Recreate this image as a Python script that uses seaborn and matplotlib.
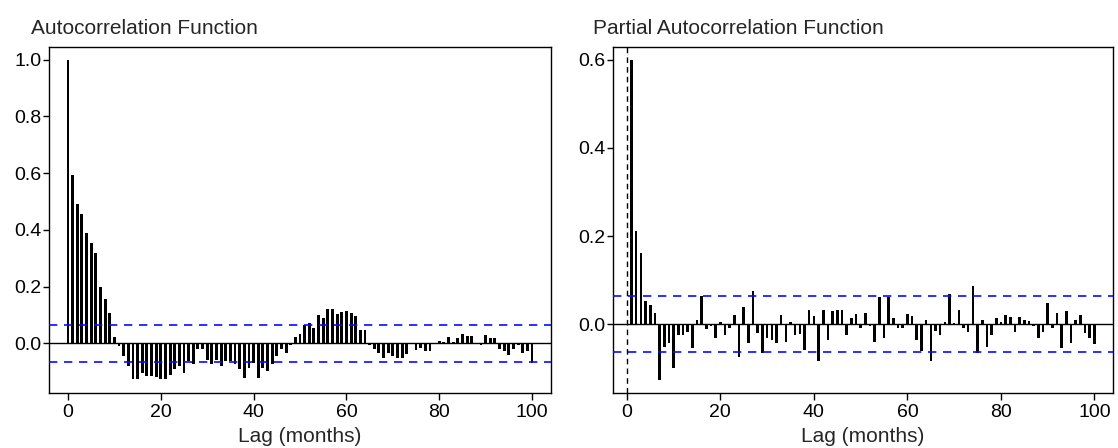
import numpy as np
import pandas as pd
import matplotlib
matplotlib.use("Agg")
import matplotlib.pyplot as plt
import seaborn as sns

# ACF values, lags 0..100
acf_lags = list(range(0, 101))
acf_vals = [
    1.0, 0.595, 0.49, 0.456, 0.39, 0.353, 0.32, 0.20, 0.155, 0.106,
    0.024, -0.01, -0.045, -0.08, -0.124, -0.127, -0.104, -0.115, -0.115, -0.119,
    -0.124, -0.127, -0.112, -0.092, -0.08, -0.104, -0.062, -0.074, -0.021, -0.021,
    -0.057, -0.074, -0.06, -0.08, -0.062, -0.062, -0.074, -0.092, -0.121, -0.086,
    -0.068, -0.121, -0.086, -0.098, -0.074, -0.045, -0.021, -0.035, -0.005, 0.024,
    0.034, 0.065, 0.073, 0.053, 0.099, 0.091, 0.12, 0.12, 0.102, 0.11,
    0.114, 0.108, 0.097, 0.047, 0.047, -0.005, -0.021, -0.033, -0.053, -0.033,
    -0.045, -0.053, -0.05, -0.039, -0.004, -0.025, -0.018, -0.027, -0.027, 0.002,
    0.008, 0.005, 0.022, 0.005, 0.018, 0.034, 0.026, 0.026, 0.002, -0.006,
    0.03, 0.02, 0.018, -0.021, -0.027, -0.041, -0.021, -0.006, -0.035, -0.027,
    -0.068,
]

# PACF values, lags 1..100
pacf_lags = list(range(1, 101))
pacf_vals = [
    0.60, 0.212, 0.161, 0.052, 0.044, 0.025, -0.127, -0.051, -0.043, -0.099,
    -0.024, -0.024, -0.017, -0.055, 0.01, 0.063, -0.01, -0.005, -0.032, 0.005,
    -0.024, -0.008, 0.02, -0.074, 0.04, -0.043, 0.076, -0.02, -0.066, -0.032,
    -0.035, -0.043, 0.021, -0.04, 0.006, -0.024, -0.023, -0.058, 0.033, 0.018,
    -0.083, 0.033, -0.036, 0.029, 0.033, 0.033, -0.024, 0.014, 0.023, -0.009,
    0.025, -0.005, -0.04, 0.061, -0.032, 0.061, 0.014, -0.009, -0.009, 0.023,
    0.018, -0.036, -0.061, 0.01, -0.084, -0.015, -0.024, 0.006, 0.068, 0.002,
    0.033, -0.009, -0.017, 0.087, -0.066, 0.01, -0.051, -0.024, 0.014, 0.006,
    0.021, 0.017, -0.017, 0.017, 0.01, 0.008, -0.005, -0.032, -0.017, 0.048,
    -0.009, 0.025, -0.055, 0.029, -0.043, 0.01, 0.021, -0.02, -0.032, -0.045,
]

conf_bound = 0.064
x_ticks = [0, 20, 40, 60, 80, 100]

sns.set_style("white")
plt.rcParams['font.family'] = ['Liberation Sans', 'DejaVu Sans']
plt.rcParams.update({
    'axes.edgecolor': 'black',
    'axes.linewidth': 1.0,
    'xtick.color': 'black',
    'ytick.color': 'black',
    'xtick.direction': 'out',
    'ytick.direction': 'out',
    'xtick.major.size': 5,
    'ytick.major.size': 4,
    'xtick.major.width': 1.0,
    'ytick.major.width': 1.0,
    'xtick.bottom': True,
    'ytick.left': True,
})

fig = plt.figure(figsize=(11.18, 4.48), dpi=100)
ax1 = fig.add_axes([0.0442, 0.1228, 0.4483, 0.7723])
ax2 = fig.add_axes([0.5483, 0.1228, 0.4472, 0.7723])

acf_df = pd.DataFrame({'lag': acf_lags, 'value': acf_vals})
pacf_df = pd.DataFrame({'lag': pacf_lags, 'value': pacf_vals})

sns.barplot(data=acf_df, x='lag', y='value', native_scale=True, orient='x',
            color='black', saturation=1, width=0.62, linewidth=0,
            errorbar=None, ax=ax1)
sns.barplot(data=pacf_df, x='lag', y='value', native_scale=True, orient='x',
            color='black', saturation=1, width=0.55, linewidth=0,
            errorbar=None, ax=ax2)

for ax in (ax1, ax2):
    ax.axhline(0, color='black', lw=1.0, zorder=3)
    ax.axhline(conf_bound, color='#0a0aff', lw=1.2, ls=(0, (5, 4)), zorder=3)
    ax.axhline(-conf_bound, color='#0a0aff', lw=1.2, ls=(0, (5, 4)), zorder=3)
    ax.set_xticks(x_ticks)
    ax.set_xticklabels([str(t) for t in x_ticks])
    ax.tick_params(axis='x', labelsize=14, pad=3)
    ax.tick_params(axis='y', labelsize=14, pad=1.5)
    ax.set_xlabel('Lag (months)', fontsize=15, labelpad=4)
    ax.set_ylabel('')
    for s in ax.spines.values():
        s.set_visible(True)
        s.set_color('black')

ax2.axvline(0, color='black', lw=1.0, ls=(0, (4, 3)), zorder=3)

ax1.set_xlim(-4, 104)
ax1.set_ylim(-0.175, 1.045)
ax1.set_yticks([0.0, 0.2, 0.4, 0.6, 0.8, 1.0])
ax1.set_yticklabels(['0.0', '0.2', '0.4', '0.6', '0.8', '1.0'])

ax2.set_xlim(-2.96, 103.96)
ax2.set_ylim(-0.156, 0.629)
ax2.set_yticks([0.0, 0.2, 0.4, 0.6])
ax2.set_yticklabels(['0.0', '0.2', '0.4', '0.6'])

fig.text(31 / 1118, 1 - 28 / 448, 'Autocorrelation Function', fontsize=15,
         ha='left', va='center')
fig.text(593 / 1118, 1 - 28 / 448, 'Partial Autocorrelation Function', fontsize=15,
         ha='left', va='center')

fig.savefig('out.png', dpi=100, facecolor='white')
